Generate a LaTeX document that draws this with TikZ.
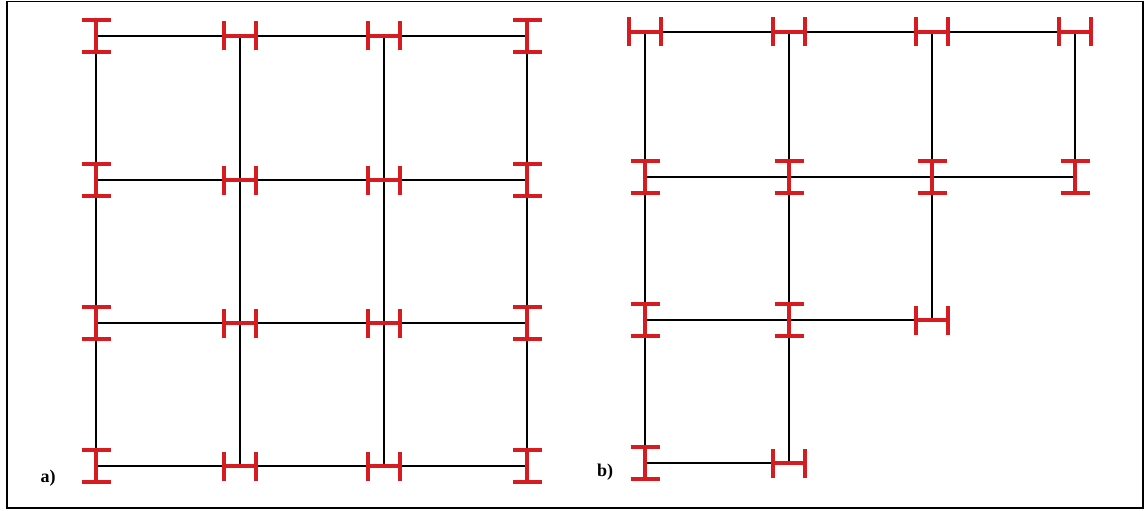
\documentclass[tikz,border=0pt]{standalone}
\usepackage{fontspec}
\setmainfont{Liberation Serif}
\definecolor{beamred}{RGB}{214,28,32}
\tikzset{
  beam/.style={draw=beamred, line width=4.5pt},
  frameline/.style={draw, line width=1.5pt},
  gridline/.style={draw, line width=2pt},
  panellabel/.style={font=\fontsize{18}{20}\selectfont\bfseries, inner sep=0pt},
  ibeam/.pic={
    \draw [beam] (-14.5,-16)-- (14.5,-16);
    \draw [beam] (-14.5,16)-- (14.5,16);
    \draw [beam] (0,-16)-- (0,16);
  },
}
\begin{document}
\begin{tikzpicture}[x=1pt, y=-1pt]
            \useasboundingbox (0,0) rectangle (1148,511);
            \draw [frameline] (7,1.5) rectangle (1143,508);
            % panel a
            \coordinate (a11) at (96,36);
            \coordinate (a12) at (240,36);
            \coordinate (a13) at (384,36);
            \coordinate (a14) at (527,36);
            \coordinate (a21) at (96,180);
            \coordinate (a22) at (240,180);
            \coordinate (a23) at (384,180);
            \coordinate (a24) at (527,180);
            \coordinate (a31) at (96,323);
            \coordinate (a32) at (240,323);
            \coordinate (a33) at (384,323);
            \coordinate (a34) at (527,323);
            \coordinate (a41) at (96,466);
            \coordinate (a42) at (240,466);
            \coordinate (a43) at (384,466);
            \coordinate (a44) at (527,466);
            \draw [gridline] (a11)-- (a12)-- (a13)-- (a14);
            \draw [gridline] (a21)-- (a22)-- (a23)-- (a24);
            \draw [gridline] (a31)-- (a32)-- (a33)-- (a34);
            \draw [gridline] (a41)-- (a42)-- (a43)-- (a44);
            \draw [gridline] (a11)-- (a21)-- (a31)-- (a41);
            \draw [gridline] (a12)-- (a22)-- (a32)-- (a42);
            \draw [gridline] (a13)-- (a23)-- (a33)-- (a43);
            \draw [gridline] (a14)-- (a24)-- (a34)-- (a44);
            \pic at (a11) {ibeam};
            \pic at (a21) {ibeam};
            \pic at (a31) {ibeam};
            \pic at (a41) {ibeam};
            \pic at (a14) {ibeam};
            \pic at (a24) {ibeam};
            \pic at (a34) {ibeam};
            \pic at (a44) {ibeam};
            \pic [rotate=90] at (a12) {ibeam};
            \pic [rotate=90] at (a22) {ibeam};
            \pic [rotate=90] at (a32) {ibeam};
            \pic [rotate=90] at (a42) {ibeam};
            \pic [rotate=90] at (a13) {ibeam};
            \pic [rotate=90] at (a23) {ibeam};
            \pic [rotate=90] at (a33) {ibeam};
            \pic [rotate=90] at (a43) {ibeam};
            \node [panellabel] (la) at (48,478) {a)};
            % panel b
            \coordinate (b11) at (645,32);
            \coordinate (b12) at (789,32);
            \coordinate (b13) at (932,32);
            \coordinate (b14) at (1075,32);
            \coordinate (b21) at (645,177);
            \coordinate (b22) at (789,177);
            \coordinate (b23) at (932,177);
            \coordinate (b24) at (1075,177);
            \coordinate (b31) at (645,320);
            \coordinate (b32) at (789,320);
            \coordinate (b33) at (932,320);
            \coordinate (b41) at (645,463);
            \coordinate (b42) at (789,463);
            \draw [gridline] (b11)-- (b12)-- (b13)-- (b14);
            \draw [gridline] (b21)-- (b22)-- (b23)-- (b24);
            \draw [gridline] (b31)-- (b32)-- (b33);
            \draw [gridline] (b41)-- (b42);
            \draw [gridline] (b11)-- (b21)-- (b31)-- (b41);
            \draw [gridline] (b12)-- (b22)-- (b32)-- (b42);
            \draw [gridline] (b13)-- (b23)-- (b33);
            \draw [gridline] (b14)-- (b24);
            \pic [rotate=90] at (b11) {ibeam};
            \pic [rotate=90] at (b12) {ibeam};
            \pic [rotate=90] at (b13) {ibeam};
            \pic [rotate=90] at (b14) {ibeam};
            \pic at (b21) {ibeam};
            \pic at (b22) {ibeam};
            \pic at (b23) {ibeam};
            \pic at (b24) {ibeam};
            \pic at (b31) {ibeam};
            \pic at (b32) {ibeam};
            \pic [rotate=90] at (b33) {ibeam};
            \pic at (b41) {ibeam};
            \pic [rotate=90] at (b42) {ibeam};
            \node [panellabel] (lb) at (605,472) {b)};
        \end{tikzpicture}
\end{document}
